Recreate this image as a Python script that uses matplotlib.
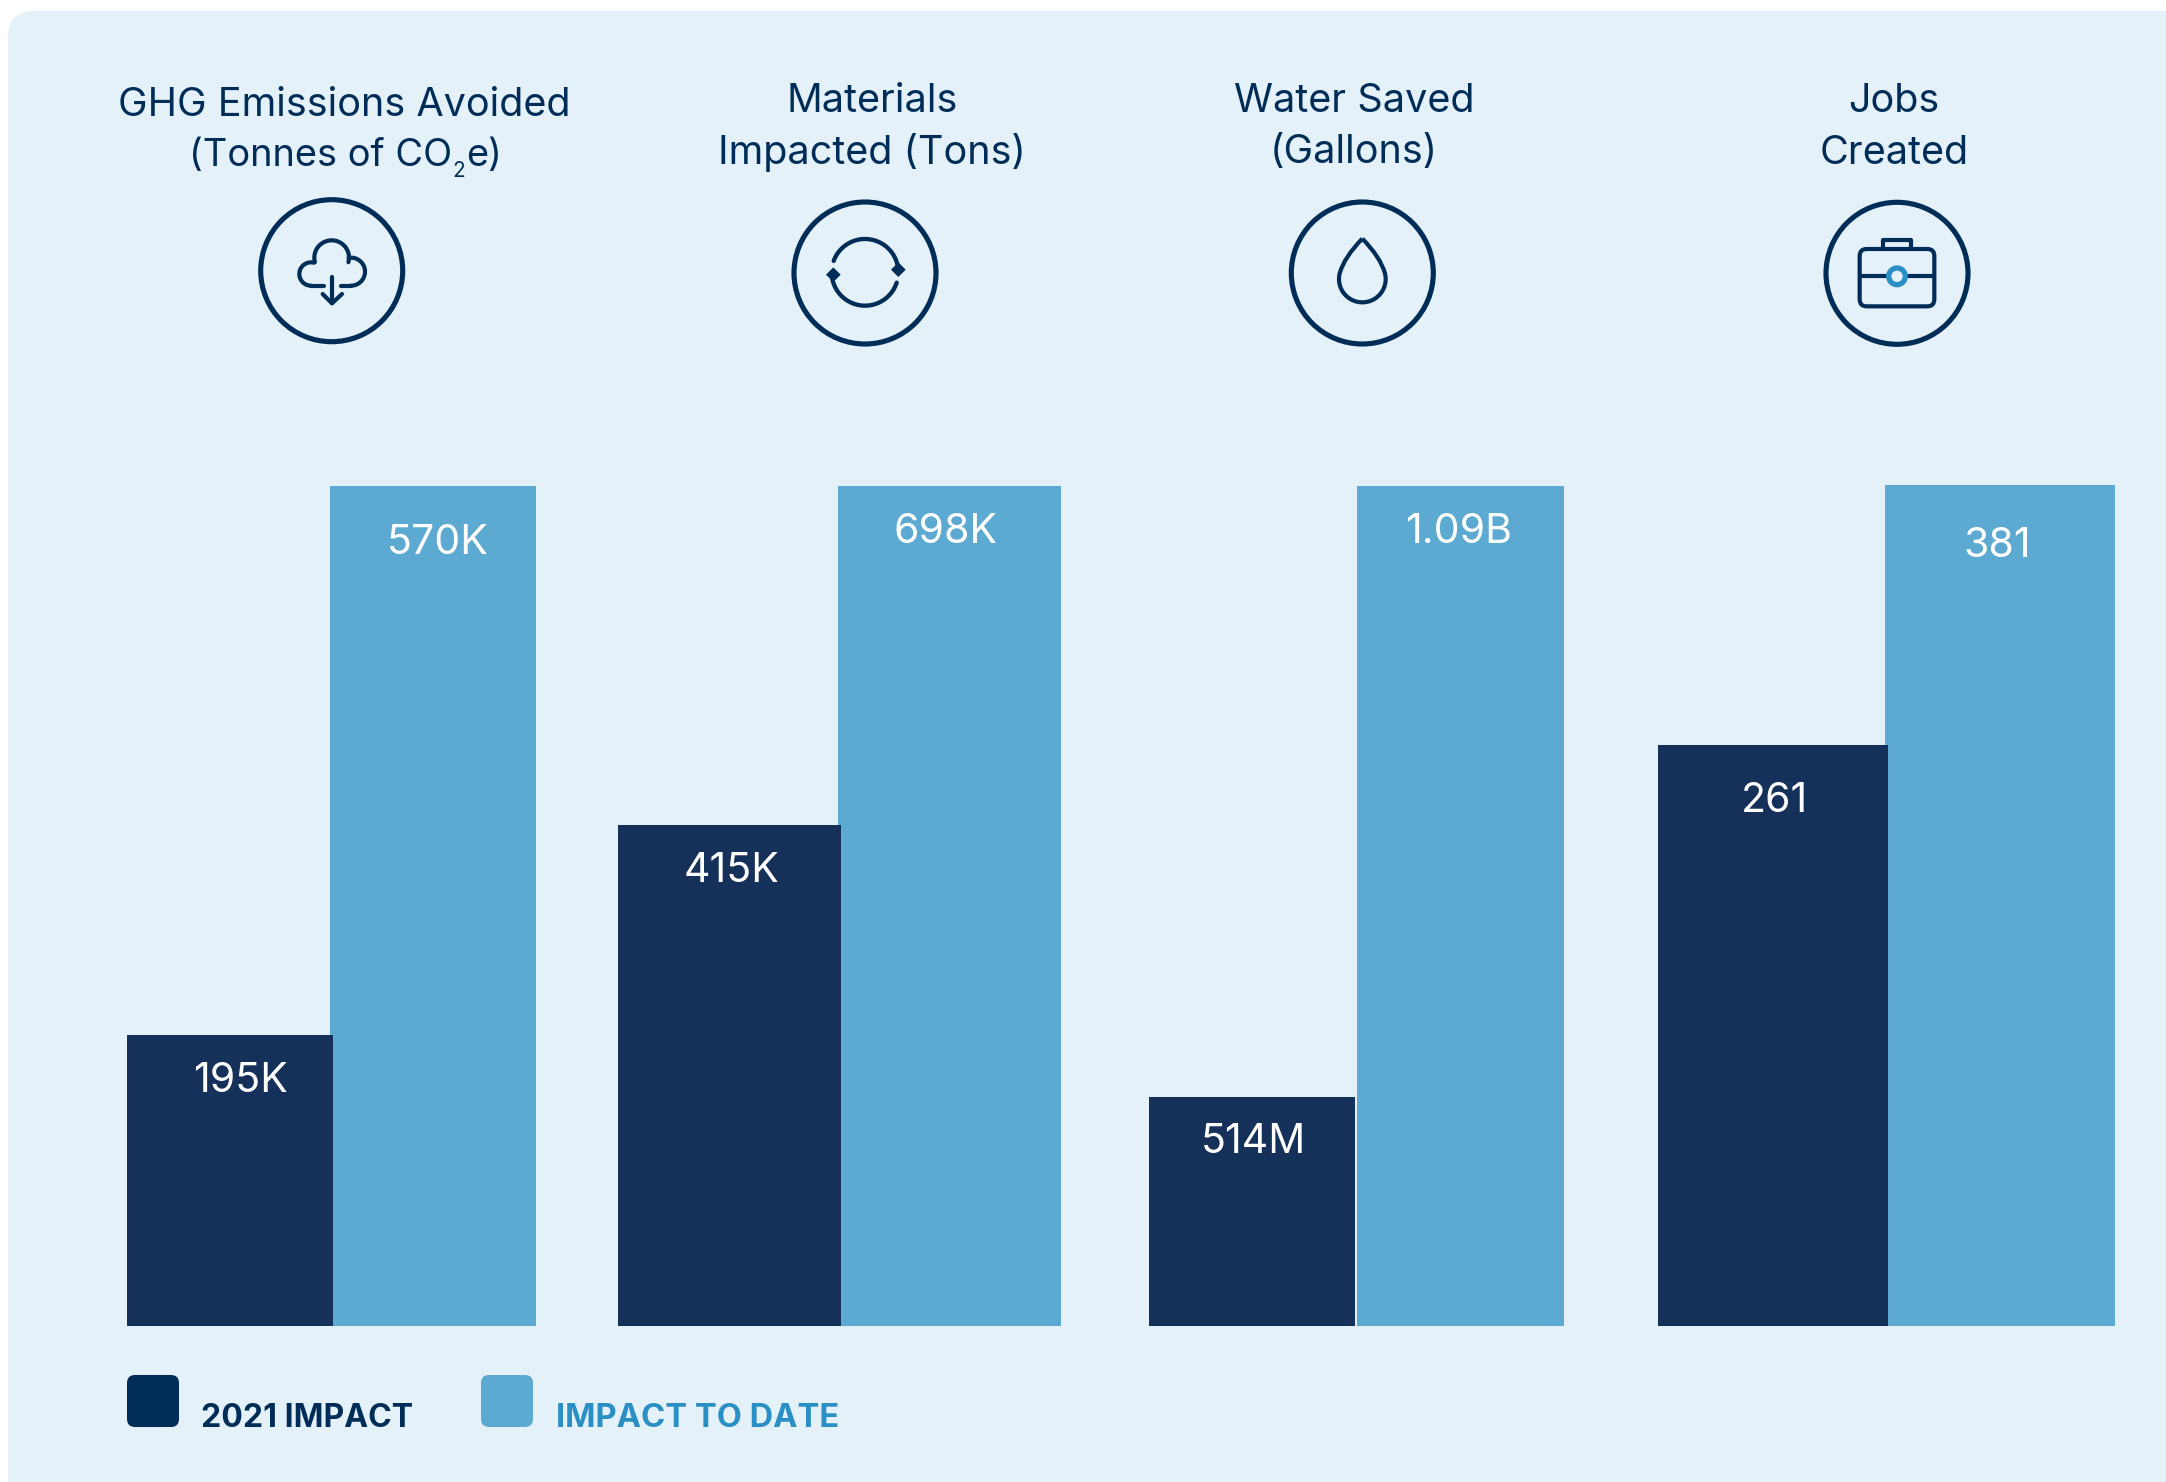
import numpy as np
import matplotlib
matplotlib.use("Agg")
import matplotlib.pyplot as plt
from matplotlib.patches import FancyBboxPatch, Circle, PathPatch
from matplotlib.path import Path

W, H = 2166, 1482
BG = "#E4F1F9"; DARK = "#15315A"; LIGHT = "#5CAAD2"; NAVY = "#002D57"; BLUE = "#2A8FC4"
FONT = "Inter"
plt.rcParams["font.family"] = [FONT, "DejaVu Sans"]

title_line1 = ["GHG Emissions Avoided", "Materials", "Water Saved", "Jobs"]
title_line2 = ["(Tonnes of CO", "Impacted (Tons)", "(Gallons)", "Created"]
series_names = ["2021 IMPACT", "IMPACT TO DATE"]
# heights as drawn in the picture, share of each panel's height
impact_2021 = [0.347, 0.597, 0.273, 0.692]
impact_to_date = [1.0, 1.0, 1.0, 1.001]
labels_2021 = ["195K", "415K", "514M", "261"]
labels_to_date = ["570K", "698K", "1.09B", "381"]

fig = plt.figure(figsize=(W / 100, H / 100), dpi=100, facecolor="white")
bgax = fig.add_axes([0, 0, 1, 1])
bgax.set_xlim(0, W); bgax.set_ylim(H, 0); bgax.axis("off")
bgax.add_patch(FancyBboxPatch((8 + 26, 11 + 26), W + 60, H + 60 - 11 - 26,
                              boxstyle="round,pad=26,rounding_size=26", fc=BG, ec="none"))
bgax.add_patch(FancyBboxPatch((2100, 11), 66, 200, boxstyle="round,pad=0,rounding_size=8",
                              fc=BG, ec="none"))

# pixel layout of the four bar groups: left, dark end, light start, right
groups = [(127, 333, 330, 536), (618, 841, 838, 1061), (1149, 1355, 1357, 1564), (1658, 1888, 1885, 2115)]
lab1_x = [240, 732, 1253, 1775]
lab1_off = [46, 46, 45, 56]
lab2_x = [438, 946, 1459, 1997]
lab2_off = [57, 46, 46, 60]
base_y, top_y = 1326, 486
ax = fig.add_axes([0, 1 - base_y / H, 1, (base_y - top_y) / H])
ax.set_xlim(0, W); ax.set_ylim(0, 1); ax.axis("off")
ax.patch.set_alpha(0)
for i, (l, d, s, r) in enumerate(groups):
    ax.bar(s, impact_to_date[i], width=r - s, align="edge", color=LIGHT, zorder=1, clip_on=False)
    ax.bar(l, impact_2021[i], width=d - l, align="edge", color=DARK, zorder=2, clip_on=False)
    ax.annotate(labels_2021[i], (lab1_x[i], impact_2021[i]), xytext=(0, -lab1_off[i] * 0.72),
                textcoords="offset points", ha="center", va="center", color="white", fontsize=29.5, zorder=3)
    ax.annotate(labels_to_date[i], (lab2_x[i], 1), xytext=(0, -lab2_off[i] * 0.72),
                textcoords="offset points", ha="center", va="center", color="white", fontsize=29.5, zorder=3)

# titles
title_pos = [(344, 101, 152), (872, 98, 149), (1354, 98, 149), (1894, 98, 149)]
for a, b, (x, y1, y2) in zip(title_line1, title_line2, title_pos):
    bgax.text(x, y1, a, ha="center", va="center_baseline", fontsize=28.5, color=NAVY)
    if b.endswith("CO"):
        bgax.text(452, y2, b, ha="right", va="center_baseline", fontsize=27.4, color=NAVY)
        bgax.text(459, y2 + 17, "2", ha="center", va="center_baseline", fontsize=15, color=NAVY)
        bgax.text(466, y2, "e)", ha="left", va="center_baseline", fontsize=27.4, color=NAVY)
    else:
        bgax.text(x, y2, b, ha="center", va="center_baseline", fontsize=28.5, color=NAVY)

# icons: local coordinates are 1/3 pixel steps from an origin
LW = 3.0
def ring(cx, cy):
    bgax.add_patch(Circle((cx, cy), 71, fc="none", ec=NAVY, lw=3.7))
def line(ox, oy, xs, ys, lw=LW):
    bgax.plot(ox + np.asarray(xs) / 3, oy + np.asarray(ys) / 3, color=NAVY, lw=lw,
              solid_capstyle="round", solid_joinstyle="round")
def arc(ox, oy, cx, cy, r, a0, a1, lw=LW):
    t = np.radians(np.linspace(a0, a1, 80))
    line(ox, oy, cx + r * np.cos(t), cy + r * np.sin(t), lw)
def diamond(ox, oy, cx, cy, s):
    bgax.fill(ox + np.array([cx, cx + s, cx, cx - s]) / 3, oy + np.array([cy - s, cy, cy + s, cy]) / 3, color=NAVY, lw=0)

# cloud
ox, oy = 250, 190
ring(331.7, 270.7)
arc(ox, oy, 245, 203, 52, 165, 375)
arc(ox, oy, 183, 252, 35, 90, 285)
arc(ox, oy, 303, 245, 42, -100, 90)
line(ox, oy, [183, 222], [287, 287])
line(ox, oy, [272, 303], [287, 287])
line(ox, oy, [246, 246], [262, 340])
line(ox, oy, [218, 246, 276], [312, 340, 312])

# recycle arrows
ox, oy = 785, 193
ring(865, 273)
arc(ox, oy, 240, 238, 100, 200, 352, lw=3.1)
arc(ox, oy, 240, 238, 100, 18, 173, lw=3.1)
diamond(ox, oy, 340, 230, 22)
diamond(ox, oy, 145, 245, 22)

# drop
ox, oy = 1282, 193
ring(1362.3, 273)
cx, cy, r = 241, 258, 70
bottom = [(cx + r * np.cos(a), cy + r * np.sin(a)) for a in np.radians(np.linspace(195, -15, 80))]
verts = [(241, 137), (187, 192)] + bottom + [(295, 192), (241, 137)]
codes = [Path.MOVETO, Path.CURVE3, Path.CURVE3] + [Path.LINETO] * (len(bottom) - 1) + [Path.CURVE3, Path.CURVE3]
bgax.add_patch(PathPatch(Path([(ox + x / 3, oy + y / 3) for x, y in verts], codes),
                         fc="none", ec=NAVY, lw=3.0, joinstyle="round"))

# briefcase
ox, oy = 1817, 193
ring(1897, 273.3)
bgax.add_patch(FancyBboxPatch((ox + 128 / 3, oy + 168 / 3), 224 / 3, 172 / 3,
                              boxstyle="round,pad=0,rounding_size=7", fc="none", ec=NAVY, lw=3.0))
line(ox, oy, [198, 198, 282, 282], [168, 142, 142, 168], 3.0)
line(ox, oy, [128, 352], [250, 250], 3.0)
bgax.add_patch(Circle((ox + 240 / 3, oy + 250 / 3), 25 / 3, fc=BG, ec=BLUE, lw=3.8, zorder=5))

# legend
bgax.add_patch(FancyBboxPatch((127 + 8, 1375 + 8), 36, 36, boxstyle="round,pad=8,rounding_size=8", fc=NAVY, ec="none"))
bgax.add_patch(FancyBboxPatch((481 + 8, 1375 + 8), 36, 36, boxstyle="round,pad=8,rounding_size=8", fc=LIGHT, ec="none"))
bgax.text(201, 1415, series_names[0], ha="left", va="center_baseline", fontsize=23, fontweight="bold", color=NAVY)
bgax.text(556, 1415, series_names[1], ha="left", va="center_baseline", fontsize=23.5, fontweight="bold", color=BLUE)

fig.savefig("out.png", dpi=100, facecolor="white")
